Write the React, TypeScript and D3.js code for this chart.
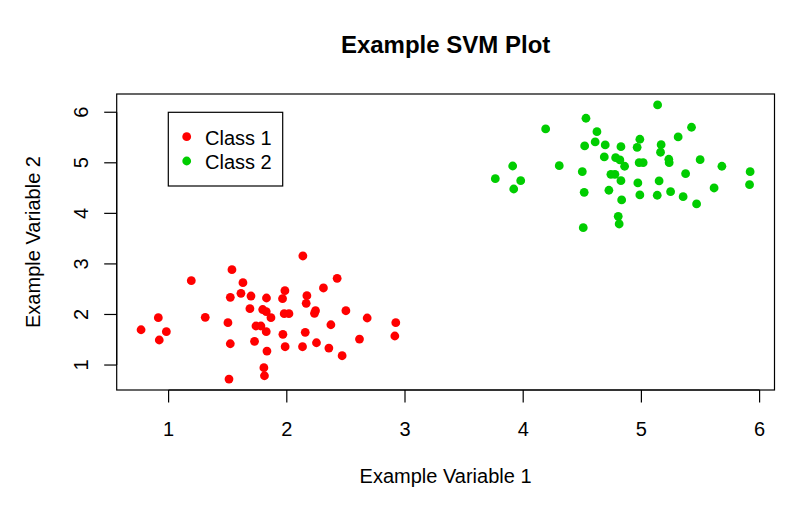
import React from "react";
import * as d3 from "d3";

const class1X = [1.536, 1.192, 1.629, 1.612, 1.697, 1.522, 1.828, 1.688, 1.796, 1.826, 0.913, 1.31, 1.502, 0.767, 0.981, 0.921, 1.739, 1.781, 1.826, 1.522, 1.727, 1.832, 1.806, 1.811, 1.511, 2.136, 2.426, 2.31, 1.984, 2.17, 1.964, 2.164, 2.243, 2.234, 2.5, 1.978, 2.018, 1.866, 2.68, 2.922, 2.373, 1.967, 2.156, 2.615, 2.914, 1.986, 2.133, 2.251, 2.356, 2.468];
const class1Y = [2.886, 2.668, 2.628, 2.419, 2.365, 2.34, 2.326, 2.114, 2.098, 2.055, 1.936, 1.944, 1.837, 1.698, 1.659, 1.495, 1.772, 1.772, 1.659, 1.421, 1.469, 1.277, 0.947, 0.788, 0.723, 3.157, 2.715, 2.524, 2.47, 2.371, 2.312, 2.221, 2.074, 2.023, 2.074, 2.015, 2.015, 1.936, 1.93, 1.837, 1.797, 1.607, 1.647, 1.514, 1.574, 1.362, 1.362, 1.441, 1.336, 1.184];
const class2X = [4.531, 4.19, 4.624, 4.609, 4.52, 4.694, 4.827, 4.686, 4.782, 4.818, 4.858, 3.911, 4.305, 3.764, 3.979, 3.92, 4.5, 4.742, 4.776, 4.827, 4.516, 4.725, 4.833, 4.804, 4.812, 4.508, 5.137, 5.424, 5.311, 4.987, 4.964, 5.167, 5.162, 4.981, 5.015, 5.232, 5.235, 5.497, 5.681, 5.374, 5.92, 4.97, 5.15, 5.615, 5.915, 4.987, 5.134, 5.247, 5.353, 5.467];
const class2Y = [5.881, 5.67, 5.616, 5.412, 5.333, 5.353, 5.319, 5.116, 5.102, 5.056, 4.932, 4.937, 4.943, 4.686, 4.647, 4.482, 4.825, 4.773, 4.773, 4.647, 4.417, 4.457, 4.265, 3.942, 3.79, 3.717, 6.144, 5.703, 5.511, 5.466, 5.307, 5.359, 5.209, 5.003, 5.003, 5.07, 5.003, 5.062, 4.932, 4.785, 4.825, 4.601, 4.641, 4.502, 4.567, 4.364, 4.358, 4.429, 4.33, 4.186];

const xTicks = [1, 2, 3, 4, 5, 6];
const yTicks = [1, 2, 3, 4, 5, 6];
const classNames = ["Class 1", "Class 2"];
const classColors = ["#FF0000", "#00CD00"];

const title = "Example SVM Plot";
const xLabel = "Example Variable 1";
const yLabel = "Example Variable 2";

const W = 800;
const H = 512;
const left = 116.7;
const right = 774.5;
const top = 94;
const bottom = 390;
const FONT = "'Liberation Sans', Arial, Helvetica, sans-serif";

function ext(vals: number[]): [number, number] {
  const [a, b] = d3.extent(vals) as [number, number];
  const d = (b - a) * 0.04;
  return [a - d, b + d];
}

export default function App() {
  const allX = class1X.concat(class2X);
  const allY = class1Y.concat(class2Y);
  const x = d3.scaleLinear().domain(ext(allX)).range([left, right]);
  const y = d3.scaleLinear().domain(ext(allY)).range([bottom, top]);

  const series = [
    { xs: class1X, ys: class1Y, color: classColors[0] },
    { xs: class2X, ys: class2Y, color: classColors[1] },
  ];

  const cx = (left + right) / 2;
  const cy = (top + bottom) / 2;

  return (
    <svg
      width={W}
      height={H}
      style={{ position: "absolute", left: 0, top: 0, background: "#fff" }}
      fontFamily={FONT}
    >
      <rect x={0} y={0} width={W} height={H} fill="#fff" />
      <text x={cx} y={53} textAnchor="middle" fontSize={24} fontWeight="bold" fill="#000">
        {title}
      </text>

      {series.map((s, si) =>
        s.xs.map((v, i) => (
          <circle key={`${si}-${i}`} cx={x(v)} cy={y(s.ys[i])} r={4.4} fill={s.color} />
        ))
      )}

      <rect x={left} y={top} width={right - left} height={bottom - top} fill="none" stroke="#000" strokeWidth={1.2} />

      {xTicks.map((t) => (
        <g key={`xt${t}`}>
          <line x1={x(t)} x2={x(t)} y1={bottom} y2={bottom + 12.5} stroke="#000" strokeWidth={1.2} />
          <text x={x(t)} y={435.5} textAnchor="middle" fontSize={20} fill="#000">
            {t}
          </text>
        </g>
      ))}
      <line x1={x(xTicks[0])} x2={x(xTicks[xTicks.length - 1])} y1={bottom} y2={bottom} stroke="#000" strokeWidth={1.2} />

      {yTicks.map((t) => (
        <g key={`yt${t}`}>
          <line x1={left - 12.5} x2={left} y1={y(t)} y2={y(t)} stroke="#000" strokeWidth={1.2} />
          <text
            transform={`translate(88,${y(t)}) rotate(-90)`}
            textAnchor="middle"
            fontSize={20}
            fill="#000"
          >
            {t}
          </text>
        </g>
      ))}
      <line x1={left} x2={left} y1={y(yTicks[0])} y2={y(yTicks[yTicks.length - 1])} stroke="#000" strokeWidth={1.2} />

      <text x={cx} y={483} textAnchor="middle" fontSize={20} fill="#000">
        {xLabel}
      </text>
      <text transform={`translate(40,${cy}) rotate(-90)`} textAnchor="middle" fontSize={20} fill="#000">
        {yLabel}
      </text>

      <g>
        <rect x={168.3} y={112.3} width={114.4} height={73.7} fill="#fff" stroke="#000" strokeWidth={1.2} />
        {classNames.map((n, i) => (
          <g key={n}>
            <circle cx={186.7} cy={136.7 + i * 24.3} r={4.4} fill={classColors[i]} />
            <text x={205} y={145 + i * 23.5} fontSize={20} fill="#000">
              {n}
            </text>
          </g>
        ))}
      </g>
    </svg>
  );
}
